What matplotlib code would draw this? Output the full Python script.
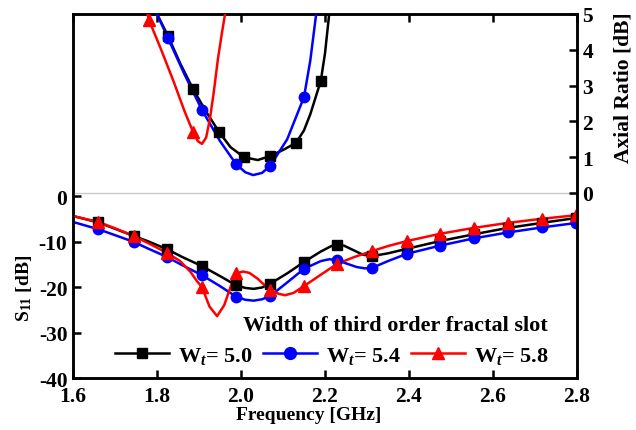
import matplotlib
matplotlib.use("Agg")
import matplotlib.pyplot as plt
from matplotlib.lines import Line2D

# =====================================================
# Data
# =====================================================

# S11 curves
black_f = [1.6, 1.66, 1.70, 1.745, 1.78, 1.824, 1.86, 1.907, 1.95, 1.988, 2.01, 2.03, 2.05,
           2.069, 2.11, 2.15, 2.19, 2.215, 2.229, 2.245, 2.27, 2.29, 2.312, 2.35, 2.395,
           2.474, 2.555, 2.636, 2.717, 2.8]
black_s = [-4.4, -5.8, -7.2, -8.8, -10.0, -11.7, -13.4, -15.4, -17.6, -19.6, -20.2, -20.4, -20.1,
           -19.3, -17.0, -14.5, -12.2, -11.0, -10.7, -10.9, -12.0, -12.9, -13.2, -12.6, -11.6,
           -9.9, -8.4, -7.0, -5.9, -4.8]

blue_f = [1.6, 1.66, 1.70, 1.745, 1.78, 1.824, 1.86, 1.907, 1.95, 1.988, 2.01, 2.03, 2.05,
          2.069, 2.11, 2.15, 2.19, 2.21, 2.229, 2.25, 2.275, 2.295, 2.312, 2.35, 2.395,
          2.474, 2.555, 2.636, 2.717, 2.8]
blue_s = [-5.7, -7.3, -8.6, -10.1, -11.6, -13.4, -15.2, -17.4, -19.8, -22.1, -22.8, -23.0, -22.7,
          -22.0, -19.0, -16.0, -14.3, -13.9, -14.1, -14.8, -15.6, -15.9, -15.8, -14.3, -12.7,
          -10.9, -9.3, -8.0, -6.9, -5.9]

red_f = [1.6, 1.66, 1.70, 1.745, 1.78, 1.824, 1.855, 1.88, 1.895, 1.907, 1.925, 1.943, 1.96,
         1.975, 1.988, 2.005, 2.02, 2.04, 2.069, 2.09, 2.105, 2.125, 2.15, 2.19, 2.229, 2.27,
         2.312, 2.35, 2.395, 2.474, 2.555, 2.636, 2.717, 2.8]
red_s = [-4.4, -5.7, -7.1, -8.8, -10.4, -12.5, -14.3, -16.7, -18.7, -20.0, -24.3, -26.4, -24.0,
         -20.0, -17.0, -16.6, -16.9, -18.2, -20.7, -21.5, -21.8, -21.3, -19.8, -17.3, -14.9, -13.4,
         -12.1, -11.0, -9.9, -8.3, -7.0, -5.9, -5.0, -4.2]

# S11 marker positions
mark_f = [1.66, 1.745, 1.824, 1.907, 1.988, 2.069, 2.15, 2.229, 2.312, 2.395, 2.474, 2.555,
          2.636, 2.717, 2.798]
black_m = [-5.8, -8.8, -11.7, -15.4, -19.6, -19.3, -14.5, -10.7, -13.2, -11.6, -9.9, -8.4,
           -7.0, -5.9, -4.8]
blue_m = [-7.3, -10.1, -13.4, -17.4, -22.1, -22.0, -16.0, -14.1, -15.8, -12.7, -10.9, -9.3,
          -8.0, -6.9, -5.9]
red_m = [-5.7, -8.8, -12.5, -20.0, -17.0, -20.7, -19.8, -14.9, -12.1, -9.9, -8.3, -7.0,
         -5.9, -5.0, -4.2]

# Axial ratio curves
ar_black_f = [1.795, 1.80, 1.826, 1.856, 1.886, 1.918, 1.948, 1.975, 2.007, 2.04, 2.069, 2.10,
              2.131, 2.15, 2.165, 2.19, 2.20, 2.21, 2.216]
ar_black = [5.4, 5.0, 4.39, 3.6, 2.9, 2.25, 1.70, 1.28, 1.0, 0.92, 1.03, 1.2,
            1.4, 1.75, 2.2, 3.13, 3.9, 5.0, 5.6]
ar_black_mf = [1.826, 1.886, 1.948, 2.007, 2.069, 2.131, 2.190]
ar_black_m = [4.39, 2.9, 1.70, 1.0, 1.03, 1.4, 3.13]

ar_blue_f = [1.795, 1.80, 1.826, 1.866, 1.907, 1.95, 1.988, 2.01, 2.029, 2.05, 2.069, 2.11,
             2.15, 2.165, 2.179, 2.185]
ar_blue = [5.1, 5.0, 4.33, 3.3, 2.32, 1.45, 0.81, 0.58, 0.5, 0.56, 0.75, 1.5,
           2.68, 3.7, 5.0, 5.5]
ar_blue_mf = [1.826, 1.907, 1.988, 2.069, 2.15]
ar_blue_m = [4.33, 2.32, 0.81, 0.75, 2.68]

ar_red_f = [1.77, 1.781, 1.81, 1.84, 1.865, 1.886, 1.897, 1.907, 1.917, 1.926, 1.935, 1.945,
            1.955, 1.962, 1.967]
ar_red = [5.3, 4.83, 4.0, 3.1, 2.3, 1.70, 1.45, 1.37, 1.55, 2.07, 2.8, 3.74,
          4.5, 5.0, 5.5]
ar_red_mf = [1.781, 1.886]
ar_red_m = [4.83, 1.70]

x_ticks = [1.6, 1.8, 2.0, 2.2, 2.4, 2.6, 2.8]
x_labels = ["1.6", "1.8", "2.0", "2.2", "2.4", "2.6", "2.8"]
s11_ticks = [-40, -30, -20, -10, 0]
ar_ticks = [0, 1, 2, 3, 4, 5]
series_labels = ["W$_t$= 5.0", "W$_t$= 5.4", "W$_t$= 5.8"]

# =====================================================
# Style
# =====================================================

plt.rcParams["font.family"] = "Liberation Serif"
plt.rcParams["font.weight"] = "bold"
plt.rcParams["axes.unicode_minus"] = False
plt.rcParams["mathtext.fontset"] = "custom"
plt.rcParams["mathtext.rm"] = "Liberation Serif:bold"
plt.rcParams["mathtext.it"] = "Liberation Serif:italic:bold"
plt.rcParams["mathtext.bf"] = "Liberation Serif:bold"

LW = 1.8
colors = ["black", "blue", "red"]
markers = ["s", "o", "^"]
msizes = [6.5, 7.5, 8]

fig = plt.figure(figsize=(6.36, 4.31), dpi=100)
ax = fig.add_axes([0.1148, 0.1206, 0.7924, 0.8446])
ax2 = ax.twinx()

# =====================================================
# S11 (left axis)
# =====================================================

lines_f = [black_f, blue_f, red_f]
lines_s = [black_s, blue_s, red_s]
marks_s = [black_m, blue_m, red_m]
for f, s, m, c, mk, ms in zip(lines_f, lines_s, marks_s, colors, markers, msizes):
    ax.plot(f, s, color=c, lw=LW, zorder=3)
    ax.plot(mark_f, m, color=c, marker=mk, ms=ms, ls="none", zorder=4)

ax.set_xlim(1.6, 2.8)
ax.set_ylim(-40, 40)
ax.set_xticks(x_ticks)
ax.set_xticklabels(x_labels)
ax.set_yticks(s11_ticks)
ax.tick_params(direction="in", length=6, width=1.8, labelsize=15.5, top=True)
ax.tick_params(axis="y", pad=4)
ax.tick_params(axis="x", pad=6)
ax.set_xlabel("Frequency [GHz]", fontsize=14, fontweight="bold")
ax.xaxis.set_label_coords(0.468, -0.076)
ax.set_ylabel("S$_{\\mathrm{11}}$ [dB]", fontsize=14, fontweight="bold")
ax.yaxis.set_label_coords(-0.078, 0.25)
for sp in ax.spines.values():
    sp.set_linewidth(1.8)

# =====================================================
# Axial ratio (right axis)
# =====================================================

ar_f = [ar_black_f, ar_blue_f, ar_red_f]
ar_v = [ar_black, ar_blue, ar_red]
ar_mf = [ar_black_mf, ar_blue_mf, ar_red_mf]
ar_mv = [ar_black_m, ar_blue_m, ar_red_m]
ax2.axhline(0, color="#c8c8c8", lw=1, zorder=1)
for f, v, mf, mv, c, mk, ms in zip(ar_f, ar_v, ar_mf, ar_mv, colors, markers, msizes):
    ax2.plot(f, v, color=c, lw=LW, zorder=3)
    ax2.plot(mf, mv, color=c, marker=mk, ms=ms, ls="none", zorder=4)

ax2.set_ylim(-5.17, 5)
ax2.set_yticks(ar_ticks)
ax2.tick_params(direction="in", length=6, width=1.8, labelsize=15.5, pad=4)
ax2.set_ylabel("Axial Ratio [dB]", fontsize=15.5, fontweight="bold")
ax2.yaxis.set_label_coords(1.072, 0.80)
for sp in ax2.spines.values():
    sp.set_linewidth(1.8)

# =====================================================
# Legend
# =====================================================

handles = [Line2D([], [], color=c, lw=LW, marker=mk, ms=ms + 1)
           for c, mk, ms in zip(colors, markers, msizes)]
leg = ax2.legend(handles, series_labels, ncol=3, frameon=False,
                 loc="lower right", bbox_to_anchor=(0.965, 0.002),
                 title="Width of third order fractal slot", alignment="right",
                 prop={"size": 16, "weight": "bold"},
                 title_fontproperties={"size": 16, "weight": "bold"},
                 handlelength=2.4, handletextpad=0.4, columnspacing=0.5,
                 borderpad=0, labelspacing=0.45)

fig.savefig("out.png", dpi=100)
print("saved out.png")
